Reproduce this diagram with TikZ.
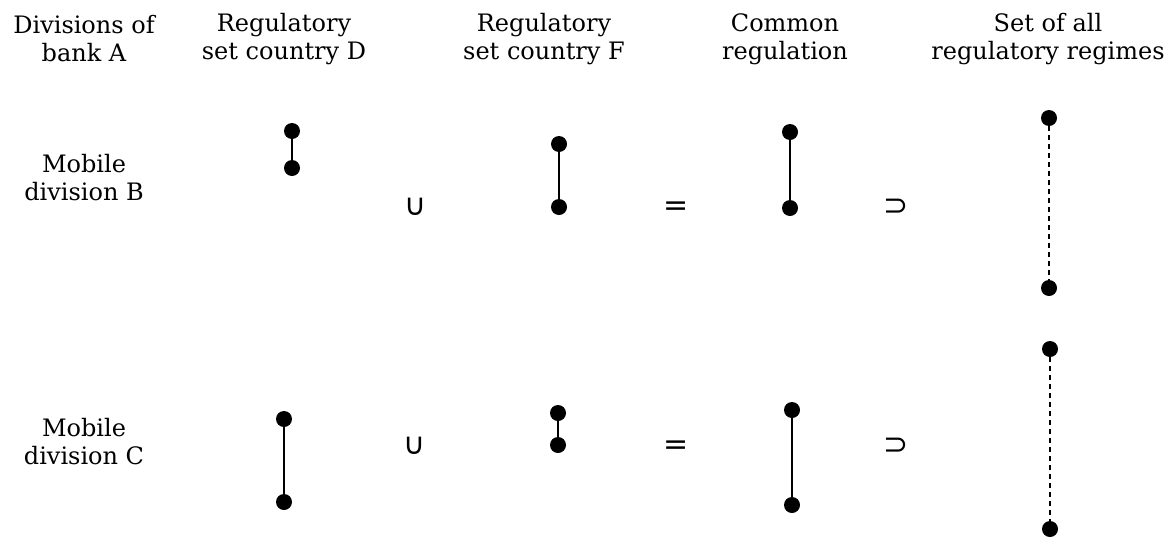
\documentclass[tikz,border=0pt]{standalone}
\usepackage{fontspec}
\setmainfont{DejaVu Serif}
\newfontfamily\symfont{DejaVu Sans}
\usetikzlibrary{positioning}
\tikzset{
  dot/.style={circle, fill=black, inner sep=0pt, minimum size=16pt},
  head/.style={align=center, font=\fontsize{24}{28}\selectfont},
  op/.style={font=\symfont\fontsize{30}{30}\selectfont, inner sep=0pt},
  link/.style={line width=1.4pt},
  hull/.style={line width=1.4pt, dash pattern=on 5pt off 4pt},
}
\begin{document}
\begin{tikzpicture}[x=1pt, y=-1pt]
    \useasboundingbox (0,0) rectangle (1176,536);
    %
    \node [head] (hA) at (84,39) {Divisions of\\bank A};
    \node [head] (hD) at (284,39) {Regulatory\\set country D};
    \node [head] (hF) at (544,39) {Regulatory\\set country F};
    \node [head] (hC) at (785,39) {Common\\regulation};
    \node [head] (hS) at (1048,39) {Set of all\\regulatory regimes};
    %
    \node [head] (rB) at (84,178) {Mobile\\division B};
    \node [head] (rC) at (84,442) {Mobile\\division C};
    %
    \node [op] (u1) at (415,207) {∪};
    \node [op] (e1) at (676,209) {=};
    \node [op] (s1) at (896,207) {⊃};
    \node [op] (u2) at (414,446) {∪};
    \node [op] (e2) at (676,448) {=};
    \node [op] (s2) at (896,446) {⊃};
    %
    \node [dot] (d1t) at (292,131) {};
    \node [dot] (d1b) at (292,168) {};
    \node [dot] (f1t) at (559,144) {};
    \node [dot] (f1b) at (559,207) {};
    \node [dot] (c1t) at (790,132) {};
    \node [dot] (c1b) at (790,208) {};
    \node [dot] (a1t) at (1049,118) {};
    \node [dot] (a1b) at (1049,288) {};
    %
    \node [dot] (d2t) at (284,419) {};
    \node [dot] (d2b) at (284,502) {};
    \node [dot] (f2t) at (558,413) {};
    \node [dot] (f2b) at (558,445) {};
    \node [dot] (c2t) at (792,410) {};
    \node [dot] (c2b) at (792,505) {};
    \node [dot] (a2t) at (1050,349) {};
    \node [dot] (a2b) at (1050,529) {};
    %
    \draw [link] (d1t) -- (d1b);
    \draw [link] (f1t) -- (f1b);
    \draw [link] (c1t) -- (c1b);
    \draw [hull] (a1t) -- (a1b);
    \draw [link] (d2t) -- (d2b);
    \draw [link] (f2t) -- (f2b);
    \draw [link] (c2t) -- (c2b);
    \draw [hull] (a2t) -- (a2b);
\end{tikzpicture}
\end{document}
